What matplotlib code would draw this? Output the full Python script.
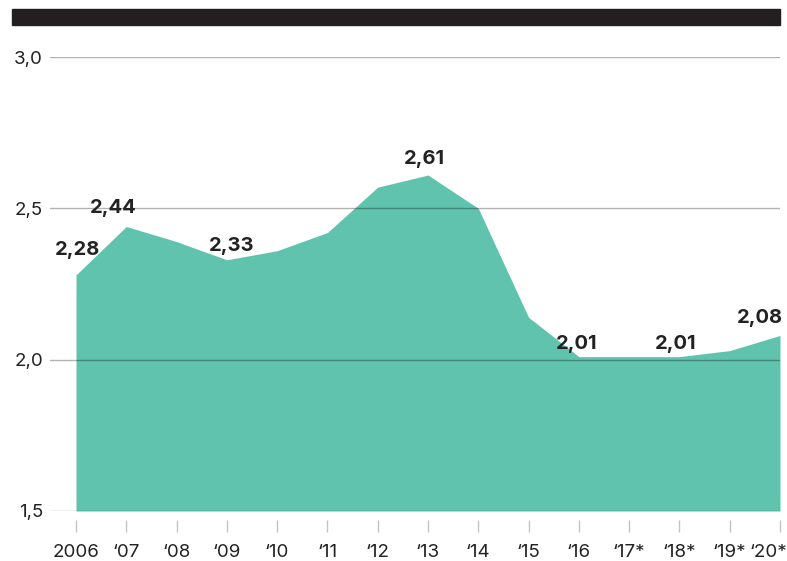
import matplotlib
matplotlib.use('Agg')
import matplotlib.pyplot as plt
import matplotlib.transforms as mtransforms
from matplotlib.patches import Rectangle

# data
years = [2006, 2007, 2008, 2009, 2010, 2011, 2012, 2013, 2014, 2015, 2016, 2017, 2018, 2019, 2020]
values = [2.28, 2.44, 2.39, 2.33, 2.36, 2.42, 2.57, 2.61, 2.50, 2.14, 2.01, 2.01, 2.01, 2.03, 2.08]
tick_labels = ['2006', '\u201807', '\u201808', '\u201809', '\u201810', '\u201811', '\u201812', '\u201813',
               '\u201814', '\u201815', '\u201816', '\u201817*', '\u201818*', '\u201819*', '\u201820*']
# labelled points: year -> (dx, dy) offset in pixels
label_years = [2006, 2007, 2009, 2013, 2016, 2018, 2020]
label_offsets = [(2, 25), (-13, 18), (5, 14), (-4, 16), (-2, 13), (-4, 13), (-20, 17)]

plt.rcParams['font.family'] = ['Inter', 'DejaVu Sans']

W, H = 787, 561
fig = plt.figure(figsize=(W / 100, H / 100), dpi=100)
ax = fig.add_axes([50 / W, (H - 511) / H, (780 - 50) / W, (511 - 57) / H])

ax.fill_between(years, values, 1.5, color='#5fc3ad', linewidth=0, zorder=1)

ax.set_xlim(2006 - 26 / 50.29, 2020)
ax.set_ylim(1.5, 3.0)
ax.set_yticks([1.5, 2.0, 2.5, 3.0])
ax.set_yticklabels(['1,5', '2,0', '2,5', '3,0'])
for y in [1.5, 2.0, 2.5, 3.0]:
    ax.axhline(y, color='black', alpha=0.3, linewidth=1, zorder=2)

ax.set_xticks(years)
ax.set_xticklabels(tick_labels)
for s in ax.spines.values():
    s.set_visible(False)
ax.spines['bottom'].set_position(('outward', 6.5))
ax.tick_params(axis='x', length=8.5, width=1, color='#c4c4c4', pad=9,
               labelsize=13.5, labelcolor='#222222')
ax.tick_params(axis='y', length=0, pad=5, labelsize=13.5, labelcolor='#222222')

# last label sits at the right edge, nudge it in a little
last = ax.get_xticklabels()[-1]
last.set_transform(last.get_transform() + mtransforms.ScaledTranslation(-12 / 100, 0, fig.dpi_scale_trans))

for yr, (dx, dy) in zip(label_years, label_offsets):
    v = values[years.index(yr)]
    ax.annotate(f'{v:.2f}'.replace('.', ','), (yr, v), xytext=(dx, dy),
                textcoords='offset pixels', ha='center', va='center',
                fontsize=14.5, fontweight='bold', color='#222222', zorder=3)

fig.patches.append(Rectangle((12 / W, (H - 25) / H), (780 - 12) / W, 16 / H,
                             transform=fig.transFigure, color='#231f20'))

fig.savefig('out.png', dpi=100)
